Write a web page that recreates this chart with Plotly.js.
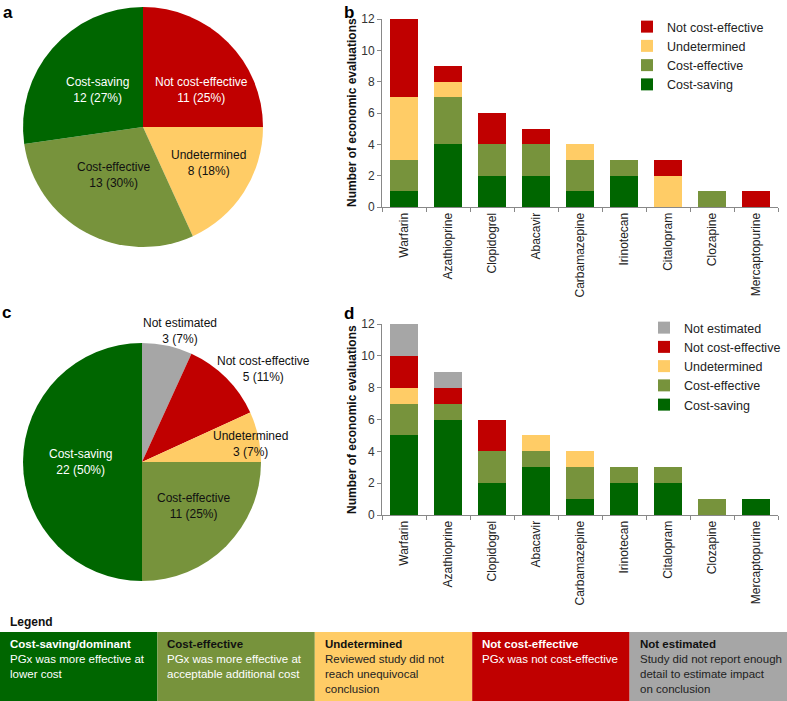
<!DOCTYPE html>
<html><head><meta charset="utf-8">
<script src="https://cdn.plot.ly/plotly-3.0.1.min.js"></script>
<style>html,body{margin:0;padding:0;background:#fff}#chart{width:787px;height:701px}</style>
</head><body><div id="chart"></div>
<script>
const categories = ['Warfarin','Azathioprine','Clopidogrel','Abacavir','Carbamazepine','Irinotecan','Citalopram','Clozapine','Mercaptopurine'];
const pieALabels = ['Not cost-effective','Undetermined','Cost-effective','Cost-saving'];
const pieAValues = [11, 8, 13, 12];
const pieCLabels = ['Not estimated','Not cost-effective','Undetermined','Cost-effective','Cost-saving'];
const pieCValues = [3, 5, 3, 11, 22];
const bCostSaving       = [1,4,2,2,1,2,0,0,0];
const bCostEffective    = [2,3,2,2,2,1,0,1,0];
const bUndetermined     = [4,1,0,0,1,0,2,0,0];
const bNotCostEffective = [5,1,2,1,0,0,1,0,1];
const dCostSaving       = [5,6,2,3,1,2,2,0,1];
const dCostEffective    = [2,1,2,1,2,1,1,1,0];
const dUndetermined     = [1,0,0,1,1,0,0,0,0];
const dNotCostEffective = [2,1,2,0,0,0,0,0,0];
const dNotEstimated     = [2,1,0,0,0,0,0,0,0];
const yTitle = 'Number of economic evaluations';
const legendTitles = ['Cost-saving/dominant','Cost-effective','Undetermined','Not cost-effective','Not estimated'];
const legendLines = [
  ['PGx was more effective at','lower cost'],
  ['PGx was more effective at','acceptable additional cost'],
  ['Reviewed study did not','reach unequivocal','conclusion'],
  ['PGx was not cost-effective'],
  ['Study did not report enough','detail to estimate impact','on conclusion']
];

const C = {cs:'#006600', ce:'#77933C', u:'#FFCC66', nce:'#C00000', ne:'#A6A6A6'};
const colorOf = {'Cost-saving':C.cs,'Cost-effective':C.ce,'Undetermined':C.u,'Not cost-effective':C.nce,'Not estimated':C.ne};
const FONT = 'Liberation Sans, Arial, sans-serif';
const W = 787, H = 701;
const px = x => x / W, py = y => 1 - y / H;

const traces = [];
traces.push({type:'pie', labels:pieALabels, values:pieAValues, sort:false, direction:'clockwise', rotation:0,
  marker:{colors:pieALabels.map(l=>colorOf[l]), line:{width:0}}, textinfo:'none', hoverinfo:'skip', showlegend:false,
  domain:{x:[px(23),px(263)], y:[py(247),py(7)]}});
traces.push({type:'pie', labels:pieCLabels, values:pieCValues, sort:false, direction:'clockwise', rotation:0,
  marker:{colors:pieCLabels.map(l=>colorOf[l]), line:{width:0}}, textinfo:'none', hoverinfo:'skip', showlegend:false,
  domain:{x:[px(23),px(261)], y:[py(581),py(343)]}});

function bar(name, y, xa, ya, leg){
  return {type:'bar', name, x:categories, y, xaxis:xa, yaxis:ya, legend:leg,
    marker:{color:colorOf[name], line:{width:0}}, hoverinfo:'skip'};
}
traces.push(bar('Cost-saving', bCostSaving, 'x', 'y', 'legend'));
traces.push(bar('Cost-effective', bCostEffective, 'x', 'y', 'legend'));
traces.push(bar('Undetermined', bUndetermined, 'x', 'y', 'legend'));
traces.push(bar('Not cost-effective', bNotCostEffective, 'x', 'y', 'legend'));
traces.push(bar('Cost-saving', dCostSaving, 'x2', 'y2', 'legend2'));
traces.push(bar('Cost-effective', dCostEffective, 'x2', 'y2', 'legend2'));
traces.push(bar('Undetermined', dUndetermined, 'x2', 'y2', 'legend2'));
traces.push(bar('Not cost-effective', dNotCostEffective, 'x2', 'y2', 'legend2'));
traces.push(bar('Not estimated', dNotEstimated, 'x2', 'y2', 'legend2'));

function xaxis(anchor){
  return {domain:[px(382),px(778)], anchor, type:'category', tickangle:-90, tickson:'boundaries',
    ticks:'outside', ticklen:4, tickcolor:'#888', showline:true, linecolor:'#888', linewidth:1,
    tickfont:{family:FONT,size:12,color:'#222'}, showgrid:false, automargin:false, fixedrange:true};
}
function yaxis(anchor, top, bottom){
  return {domain:[py(bottom),py(top)], anchor, range:[0,12], dtick:2, ticks:'outside', ticklen:4, tickcolor:'#888',
    showline:true, linecolor:'#888', linewidth:1, showgrid:false, zeroline:false,
    tickfont:{family:FONT,size:12,color:'#333'}, automargin:false, fixedrange:true};
}

const annotations = [];
function pieLabel(labels, values, i, x, y, color){
  const total = values.reduce((a,b)=>a+b,0);
  annotations.push({xref:'paper', yref:'paper', x:px(x), y:py(y), xanchor:'center', yanchor:'middle',
    showarrow:false, align:'center',
    text: labels[i] + '<br>' + values[i] + ' (' + Math.round(values[i]/total*100) + '%)',
    font:{family:FONT,size:12,color}});
}
pieLabel(pieALabels, pieAValues, 0, 201, 90, '#fff');
pieLabel(pieALabels, pieAValues, 1, 208, 163, '#111');
pieLabel(pieALabels, pieAValues, 2, 113, 175, '#111');
pieLabel(pieALabels, pieAValues, 3, 97, 90, '#fff');
pieLabel(pieCLabels, pieCValues, 0, 180, 331, '#111');
pieLabel(pieCLabels, pieCValues, 1, 263, 369, '#111');
pieLabel(pieCLabels, pieCValues, 2, 250, 444, '#111');
pieLabel(pieCLabels, pieCValues, 3, 193, 506, '#111');
pieLabel(pieCLabels, pieCValues, 4, 80, 462, '#fff');

// y-axis titles
[[113],[420]].forEach(([yc])=>{
  annotations.push({xref:'paper',yref:'paper',x:px(352),y:py(yc),xanchor:'center',yanchor:'middle',textangle:-90,
    showarrow:false, text:'<b>'+yTitle+'</b>', font:{family:FONT,size:12,color:'#111'}});
});

[['a',8,12],['b',349,12],['c',6,312],['d',349,313]].forEach(([t,x,y])=>{
  annotations.push({xref:'paper',yref:'paper',x:px(x),y:py(y),xanchor:'center',yanchor:'middle',showarrow:false,
    text:'<b>'+t+'</b>', font:{family:FONT,size:17,color:'#000'}});
});
annotations.push({xref:'paper',yref:'paper',x:px(8),y:py(622),xanchor:'left',yanchor:'middle',showarrow:false,
  text:'<b>Legend</b>', font:{family:FONT,size:12,color:'#111'}});

const boxColors = [C.cs, C.ce, C.u, C.nce, C.ne];
const titleColors = ['#fff','#111','#111','#fff','#111'];
const bodyColors = ['#fff','#fff','#222','#fff','#222'];
const shapes = [];
legendTitles.forEach((t,i)=>{
  shapes.push({type:'rect', xref:'paper', yref:'paper', x0:i/5, x1:(i+1)/5, y0:0, y1:py(632),
    fillcolor:boxColors[i], line:{width:0}, layer:'below'});
  annotations.push({xref:'paper',yref:'paper',x:i/5 + px(8),y:py(636),xanchor:'left',yanchor:'top',showarrow:false,align:'left',
    text:'<b><span style="color:'+titleColors[i]+'">'+t+'</span></b><br>'+legendLines[i].join('<br>'),
    font:{family:FONT,size:11.5,color:bodyColors[i]}});
});

const legendBase = {traceorder:'reversed', font:{family:FONT,size:12.5,color:'#222'}, bgcolor:'rgba(0,0,0,0)',
  xanchor:'left', yanchor:'top', itemclick:false, itemdoubleclick:false};

const layout = {
  width:W, height:H, margin:{l:0,r:0,t:0,b:0}, paper_bgcolor:'#fff', plot_bgcolor:'rgba(0,0,0,0)',
  barmode:'stack', bargap:0.36, font:{family:FONT},
  xaxis:xaxis('y'), yaxis:yaxis('x',19,207),
  xaxis2:xaxis('y2'), yaxis2:yaxis('x2',324,515),
  legend:Object.assign({x:px(627), y:py(12)}, legendBase),
  legend2:Object.assign({x:px(644), y:py(313)}, legendBase),
  annotations, shapes
};
Plotly.newPlot('chart', traces, layout, {staticPlot:true, displayModeBar:false});
</script></body></html>
